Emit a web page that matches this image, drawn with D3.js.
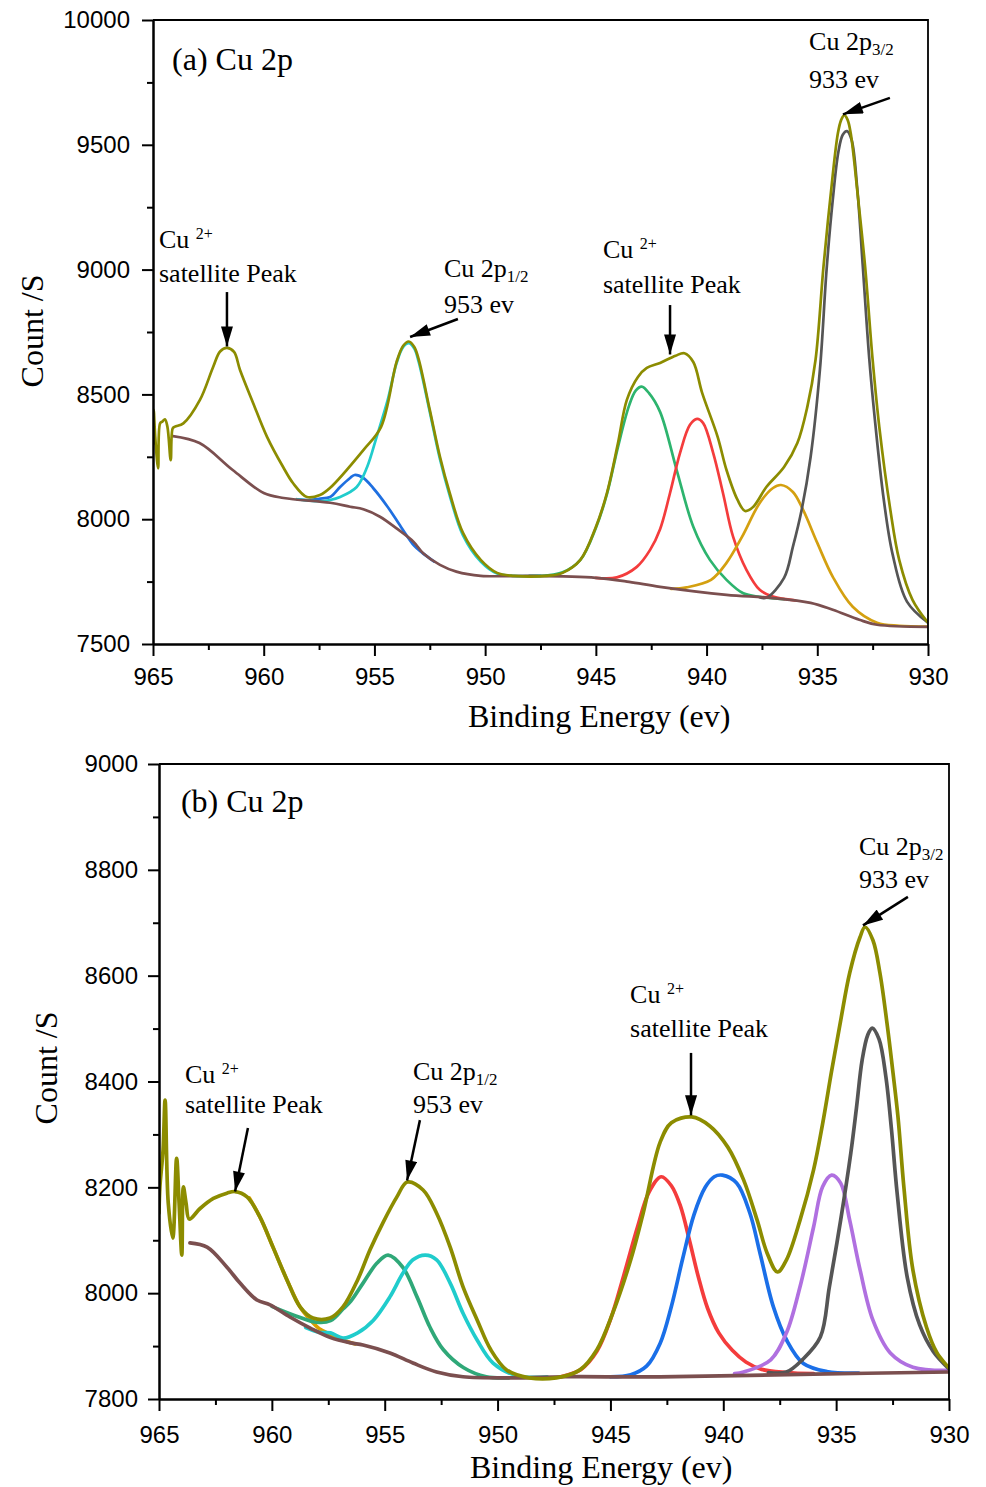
<!DOCTYPE html>
<html>
<head>
<meta charset="utf-8">
<script src="https://cdn.jsdelivr.net/npm/d3@7"></script>
<style>
    body { margin: 0; background: #fff; }
    .axis path, .axis line { stroke: #000; stroke-width: 2; }
    .axis text { font-family: "Liberation Sans", Arial, sans-serif; font-size: 24px; fill: #000; }
    .title { font-family: "Liberation Serif", "Times New Roman", serif; font-size: 32px; fill: #000; }
    .note { font-family: "Liberation Serif", "Times New Roman", serif; font-size: 26px; fill: #000; }
</style>
</head>
<body>
<script>

// tick values
var energyTicks = [965, 960, 955, 950, 945, 940, 935, 930];
var energyMinor = [962.5, 957.5, 952.5, 947.5, 942.5, 937.5, 932.5];
var aCountTicks = [7500, 8000, 8500, 9000, 9500, 10000];
var aCountMinor = [7750, 8250, 8750, 9250, 9750];
var bCountTicks = [7800, 8000, 8200, 8400, 8600, 8800, 9000];
var bCountMinor = [7900, 8100, 8300, 8500, 8700, 8900];

// panel (a): [binding energy, count]
var aEnvelope = [[965.0, 8300], [964.97, 8438], [964.9, 8330], [964.77, 8204], [964.68, 8384], [964.58, 8391],
    [964.46, 8400], [964.35, 8371], [964.2, 8237], [964.11, 8364], [964.01, 8371], [963.63, 8384], [962.88, 8478],
    [962.28, 8611], [961.97, 8672], [961.66, 8686], [961.34, 8670], [961.07, 8598], [960.48, 8466], [959.85, 8330],
    [959.13, 8210], [958.68, 8145], [958.05, 8089], [957.46, 8097], [957.01, 8125], [955.5, 8277], [954.7, 8370],
    [954.0, 8630], [953.7, 8695], [953.45, 8712], [953.2, 8690], [953.0, 8640], [952.5, 8438], [952.04, 8250],
    [951.6, 8105], [951.0, 7945], [950.2, 7837], [949.46, 7785], [948.7, 7773], [947.2, 7773], [946.5, 7785],
    [945.7, 7837], [945.0, 7969], [944.5, 8105], [944.0, 8305], [943.6, 8478], [943.1, 8570], [942.7, 8606],
    [942.1, 8626], [941.4, 8655], [941.0, 8665], [940.6, 8630], [940.2, 8506], [939.5, 8330], [939.1, 8197],
    [938.6, 8077], [938.26, 8033], [937.9, 8049], [937.3, 8129], [936.5, 8209], [935.9, 8305], [935.45, 8450],
    [935.08, 8638], [934.72, 9012], [934.42, 9279], [934.07, 9546], [933.92, 9600], [933.78, 9619], [933.63, 9600],
    [933.49, 9546], [933.15, 9279], [932.84, 9012], [932.5, 8638], [932.2, 8370], [931.7, 8037], [931.3, 7837],
    [930.7, 7677], [930.0, 7585]];
var aBackground = [[964.1, 8333], [962.9, 8305], [961.4, 8197], [960.0, 8105], [959.1, 8085], [957.0, 8066],
    [956.1, 8050], [955.5, 8040], [954.75, 8010], [954.0, 7963], [953.24, 7910], [952.8, 7864], [952.04, 7817],
    [951.3, 7790], [950.2, 7773], [948.0, 7773], [945.0, 7765], [943.5, 7749], [942.1, 7729], [939.1, 7697],
    [937.1, 7685], [935.3, 7665], [934.3, 7637], [933.1, 7597], [932.3, 7577], [930.0, 7569]];
var aPeak956 = [[958.5, 8080], [958.0, 8077], [957.5, 8082], [957.0, 8089], [956.55, 8129], [956.1, 8165],
    [955.9, 8177], [955.5, 8165], [955.06, 8125], [954.4, 8049], [953.8, 7969], [953.2, 7893], [952.85, 7866],
    [952.3, 7830]];
var aPeak953 = [[958.5, 8080], [957.5, 8072], [957.0, 8077], [956.55, 8089], [955.8, 8129], [955.33, 8209],
    [954.9, 8330], [954.4, 8478], [954.0, 8625], [953.7, 8690], [953.45, 8705], [953.2, 8684], [953.0, 8630],
    [952.5, 8430], [952.04, 8240], [951.6, 8095], [951.0, 7935], [950.2, 7830], [949.46, 7782], [948.7, 7773],
    [947.5, 7773]];
var aPeak943 = [[948.0, 7773], [947.2, 7775], [946.5, 7787], [945.7, 7837], [945.0, 7965], [944.5, 8100],
    [944.0, 8290], [943.5, 8455], [943.2, 8515], [942.93, 8531], [942.6, 8505], [942.1, 8430], [941.35, 8197],
    [940.6, 7970], [939.85, 7837], [939.1, 7757], [938.34, 7703], [937.6, 7689], [936.5, 7680]];
var aPeak940 = [[945.0, 7765], [944.05, 7767], [943.15, 7809], [942.55, 7877], [942.1, 7960], [941.65, 8105],
    [941.2, 8265], [940.75, 8378], [940.43, 8402], [940.16, 8386], [939.7, 8265], [939.26, 8105], [938.8, 7929],
    [938.2, 7797], [937.6, 7717], [937.0, 7690], [936.0, 7675]];
var aPeak937 = [[941.6, 7721], [940.9, 7727], [939.8, 7757], [939.1, 7825], [938.4, 7929], [937.6, 8065],
    [937.0, 8125], [936.64, 8137], [936.1, 8109], [935.64, 8037], [935.0, 7905], [934.3, 7769], [933.4, 7649],
    [932.3, 7585], [931.3, 7573], [930.0, 7570]];
var aPeak933 = [[937.6, 7687], [937.3, 7685], [936.5, 7765], [936.1, 7890], [935.7, 8040], [935.3, 8250],
    [934.88, 8600], [934.58, 9000], [934.3, 9280], [934.05, 9470], [933.85, 9540], [933.66, 9555], [933.45, 9520],
    [933.2, 9330], [932.95, 9020], [932.65, 8640], [932.4, 8400], [932.0, 8080], [931.6, 7860], [930.95, 7670],
    [930.0, 7585]];

// panel (b): [binding energy, count]
var bEnvelope = [[965.0, 8151], [964.96, 8201], [964.82, 8271], [964.73, 8365], [964.59, 8170], [964.39, 8104],
    [964.22, 8255], [964.11, 8170], [963.99, 8072], [963.92, 8201], [963.8, 8170], [963.66, 8140], [963.18, 8160],
    [962.59, 8179], [961.99, 8189], [961.63, 8192], [961.1, 8182], [960.53, 8144], [959.95, 8087], [959.33, 8025],
    [958.75, 7974], [958.18, 7953], [957.42, 7953], [956.85, 7974], [956.2, 8025], [955.65, 8082], [955.08, 8133],
    [954.46, 8182], [954.0, 8210], [953.3, 8195], [952.7, 8151], [952.1, 8087], [951.53, 8012], [950.9, 7949],
    [950.3, 7893], [949.6, 7855], [948.6, 7840], [947.4, 7840], [946.35, 7855], [945.6, 7893], [944.9, 7962],
    [944.1, 8063], [943.55, 8151], [942.8, 8285], [942.3, 8322], [941.4, 8333], [940.6, 8316], [939.8, 8276],
    [939.1, 8214], [938.5, 8138], [938.06, 8076], [937.6, 8040], [937.2, 8063], [936.6, 8138], [936.0, 8233],
    [935.6, 8320], [935.2, 8420], [934.8, 8515], [934.4, 8605], [933.94, 8673], [933.72, 8692], [933.37, 8667],
    [933.06, 8605], [932.75, 8511], [932.48, 8416], [932.26, 8333], [932.0, 8201], [931.6, 8044], [931.0, 7936],
    [930.53, 7887], [930.0, 7859]];
var bBackground = [[963.63, 8095], [962.87, 8087], [961.99, 8049], [961.41, 8019], [960.66, 7987], [960.08, 7978],
    [959.2, 7955], [958.3, 7934], [957.4, 7916], [956.5, 7906], [955.96, 7902], [954.77, 7887], [953.75, 7868],
    [952.7, 7851], [951.53, 7842], [949.3, 7840], [947.1, 7842], [942.8, 7842], [936.0, 7847], [930.0, 7851]];
var bPeak960 = [[961.0, 8180], [960.53, 8144], [959.95, 8087], [959.33, 8025], [958.75, 7974], [958.3, 7950],
    [957.9, 7933], [957.4, 7922], [956.9, 7912], [956.3, 7904]];
var bPeak955 = [[960.0, 7975], [959.0, 7958], [958.0, 7945], [957.4, 7948], [956.85, 7970], [956.5, 7985],
    [955.96, 8019], [955.34, 8057], [954.85, 8072], [954.2, 8049], [953.57, 7993], [953.0, 7936], [952.4, 7893],
    [951.5, 7859], [950.5, 7842], [949.5, 7840]];
var bPeak953 = [[958.5, 7935], [957.9, 7926], [957.4, 7925], [956.85, 7915], [956.2, 7925], [955.5, 7949],
    [954.77, 7993], [954.19, 8038], [953.75, 8063], [953.2, 8072], [952.7, 8063], [952.1, 8019], [951.53, 7962],
    [950.9, 7911], [950.2, 7868], [949.14, 7844], [947.8, 7842]];
var bPeak943 = [[947.2, 7842], [946.3, 7856], [945.6, 7890], [945.0, 7950], [944.4, 8035], [943.8, 8125],
    [943.3, 8190], [942.75, 8220], [942.3, 8203], [941.9, 8165], [941.5, 8100], [941.1, 8030], [940.7, 7972],
    [940.2, 7925], [939.6, 7892], [939.0, 7870], [938.3, 7856], [937.2, 7850], [936.0, 7848]];
var bPeak940 = [[945.0, 7842], [944.1, 7846], [943.4, 7862], [942.8, 7905], [942.3, 7975], [941.8, 8065],
    [941.3, 8148], [940.8, 8200], [940.4, 8220], [940.04, 8223], [939.41, 8208], [938.82, 8151], [938.37, 8075],
    [937.78, 7974], [937.19, 7911], [936.45, 7867], [935.42, 7852], [934.0, 7849]];
var bPeak935 = [[939.5, 7848], [939.1, 7851], [937.9, 7874], [937.2, 7925], [936.6, 8012], [936.0, 8125],
    [935.6, 8201], [935.2, 8223], [934.8, 8208], [934.4, 8138], [933.94, 8044], [933.37, 7949], [932.6, 7887],
    [931.6, 7860], [930.0, 7854]];
var bPeak933 = [[938.0, 7850], [937.2, 7851], [936.5, 7874], [935.7, 7917], [935.3, 8012], [934.8, 8138],
    [934.35, 8265], [934.1, 8350], [933.85, 8440], [933.6, 8488], [933.4, 8501], [933.1, 8480], [932.8, 8410],
    [932.55, 8310], [932.3, 8190], [931.85, 8030], [931.3, 7940], [930.7, 7890], [930.0, 7857]];

var olive = "#8c8c00", brown = "#7b4f4f";

var svg = d3.select("body")
            .append("svg")
            .attr("width", 986)
            .attr("height", 1487);

var defs = svg.append("defs");
defs.append("marker")
    .attr("id", "arrow")
    .attr("viewBox", "0 0 20 12")
    .attr("refX", 20)
    .attr("refY", 6)
    .attr("markerWidth", 21)
    .attr("markerHeight", 12)
    .attr("markerUnits", "userSpaceOnUse")
    .attr("orient", "auto")
    .append("path")
    .attr("d", "M0,0L20,6L0,12Z")
    .attr("fill", "#000");

var panelA = {
    name: "a", left: 153, right: 928, top: 20, bottom: 644, yDomain: [7500, 10000],
    yTicks: aCountTicks, yMinor: aCountMinor, lineWidth: 2.7, xPad: 12, yPad: 12,
    xTitle: [468, 727], yTitle: [43, 331],
    series: [
        {values: aPeak956, color: "#1f6fe0"},
        {values: aPeak953, color: "#20cccc"},
        {values: aPeak943, color: "#2db46e"},
        {values: aPeak940, color: "#f43c3c"},
        {values: aPeak937, color: "#d4a010"},
        {values: aPeak933, color: "#555555"},
        {values: aBackground, color: brown},
        {values: aEnvelope, color: olive}
    ],
    notes: [
        {e: 964.14, c: 9800, size: 32, parts: [{t: "(a) Cu 2p"}]},
        {e: 964.73, c: 9087, parts: [{t: "Cu "}, {t: "2+", s: "sup"}]},
        {e: 964.73, c: 8950, parts: [{t: "satellite Peak"}]},
        {e: 951.86, c: 8970, parts: [{t: "Cu 2p"}, {t: "1/2", s: "sub"}]},
        {e: 951.86, c: 8826, parts: [{t: "953 ev"}]},
        {e: 944.68, c: 9047, parts: [{t: "Cu "}, {t: "2+", s: "sup"}]},
        {e: 944.68, c: 8906, parts: [{t: "satellite Peak"}]},
        {e: 935.37, c: 9880, parts: [{t: "Cu 2p"}, {t: "3/2", s: "sub"}]},
        {e: 935.37, c: 9728, parts: [{t: "933 ev"}]}
    ],
    arrows: [[961.66, 8910, 961.66, 8692], [951.23, 8802, 953.39, 8730],
             [941.65, 8858, 941.65, 8660], [931.72, 9688, 933.84, 9622]]
};

var panelB = {
    name: "b", left: 159, right: 949, top: 764, bottom: 1399, yDomain: [7800, 9000],
    yTicks: bCountTicks, yMinor: bCountMinor, lineWidth: 3.7, xPad: 15, yPad: 10,
    xTitle: [470, 1478], yTitle: [57, 1068],
    series: [
        {values: bPeak960, color: "#d9a000"},
        {values: bPeak955, color: "#2fa878"},
        {values: bPeak953, color: "#20cccc"},
        {values: bPeak943, color: "#f43c3c"},
        {values: bPeak940, color: "#1a6fe8"},
        {values: bPeak935, color: "#b070e0"},
        {values: bPeak933, color: "#555555"},
        {values: bBackground, color: brown},
        {values: bEnvelope, color: olive}
    ],
    notes: [
        {e: 964.03, c: 8909, size: 32, parts: [{t: "(b) Cu 2p"}]},
        {e: 963.85, c: 8397, parts: [{t: "Cu "}, {t: "2+", s: "sup"}]},
        {e: 963.85, c: 8340, parts: [{t: "satellite Peak"}]},
        {e: 953.75, c: 8403, parts: [{t: "Cu 2p"}, {t: "1/2", s: "sub"}]},
        {e: 953.75, c: 8340, parts: [{t: "953 ev"}]},
        {e: 944.13, c: 8548, parts: [{t: "Cu "}, {t: "2+", s: "sup"}]},
        {e: 944.13, c: 8484, parts: [{t: "satellite Peak"}]},
        {e: 933.99, c: 8828, parts: [{t: "Cu 2p"}, {t: "3/2", s: "sub"}]},
        {e: 933.99, c: 8766, parts: [{t: "933 ev"}]}
    ],
    arrows: [[961.06, 8312, 961.63, 8192], [953.44, 8327, 954.01, 8213],
             [941.43, 8454, 941.43, 8336], [931.82, 8749, 933.81, 8695]]
};

drawPanel(panelA);
drawPanel(panelB);

function drawPanel(p) {

    var xScale = d3.scaleLinear()
                    .domain([965, 930])
                    .range([p.left, p.right]);

    var yScale = d3.scaleLinear()
                    .domain(p.yDomain)
                    .range([p.bottom, p.top]);

    var g = svg.append("g");

    // clip the curves to the plot box
    defs.append("clipPath")
        .attr("id", "clip-" + p.name)
        .append("rect")
        .attr("x", p.left)
        .attr("y", p.top)
        .attr("width", p.right - p.left)
        .attr("height", p.bottom - p.top);

    var line = d3.line()
                .x(function(d) { return xScale(d[0]); })
                .y(function(d) { return yScale(d[1]); })
                .curve(d3.curveCatmullRom.alpha(0.5));

    g.append("g")
        .attr("clip-path", "url(#clip-" + p.name + ")")
        .selectAll("path")
        .data(p.series)
        .enter()
        .append("path")
        .attr("d", function(d) { return line(d.values); })
        .attr("fill", "none")
        .attr("stroke", function(d) { return d.color; })
        .attr("stroke-width", p.lineWidth)
        .attr("stroke-linejoin", "round")
        .attr("stroke-linecap", "round");

    // top and right border
    g.append("path")
        .attr("d", "M" + xScale.range()[0] + "," + yScale.range()[1] + "H" + xScale.range()[1] + "V" + yScale.range()[0])
        .attr("fill", "none")
        .attr("stroke", "#000")
        .attr("stroke-width", 1.8);

    // x axis, major and minor ticks
    g.append("g")
        .attr("class", "axis")
        .attr("transform", "translate(0," + p.bottom + ")")
        .call(d3.axisBottom(xScale).tickValues(energyMinor).tickSize(6).tickSizeOuter(0).tickFormat(""));

    g.append("g")
        .attr("class", "axis")
        .attr("transform", "translate(0," + p.bottom + ")")
        .call(d3.axisBottom(xScale).tickValues(energyTicks).tickSize(12).tickSizeOuter(0)
                .tickPadding(p.xPad).tickFormat(d3.format("d")));

    // y axis
    g.append("g")
        .attr("class", "axis")
        .attr("transform", "translate(" + p.left + ",0)")
        .call(d3.axisLeft(yScale).tickValues(p.yMinor).tickSize(6).tickSizeOuter(0).tickFormat(""));

    g.append("g")
        .attr("class", "axis")
        .attr("transform", "translate(" + p.left + ",0)")
        .call(d3.axisLeft(yScale).tickValues(p.yTicks).tickSize(11).tickSizeOuter(0)
                .tickPadding(p.yPad).tickFormat(d3.format("d")));

    // axis titles
    g.append("text")
        .attr("class", "title")
        .attr("x", p.xTitle[0])
        .attr("y", p.xTitle[1])
        .text("Binding Energy (ev)");

    g.append("text")
        .attr("class", "title")
        .attr("transform", "translate(" + p.yTitle[0] + "," + p.yTitle[1] + ") rotate(-90)")
        .style("text-anchor", "middle")
        .text("Count /S");

    // labels
    p.notes.forEach(function(n) {
        var t = g.append("text")
                    .attr("class", "note")
                    .attr("x", xScale(n.e))
                    .attr("y", yScale(n.c));
        if (n.size) t.style("font-size", n.size + "px");
        n.parts.forEach(function(part) {
            var span = t.append("tspan").text(part.t);
            if (part.s == "sup") {
                span.attr("dy", -9).style("font-size", "16px");
            } else if (part.s == "sub") {
                span.attr("dy", 5).style("font-size", "17px");
            }
        });
    });

    g.selectAll("line.arrow")
        .data(p.arrows)
        .enter()
        .append("line")
        .attr("class", "arrow")
        .attr("x1", function(d) { return xScale(d[0]); })
        .attr("y1", function(d) { return yScale(d[1]); })
        .attr("x2", function(d) { return xScale(d[2]); })
        .attr("y2", function(d) { return yScale(d[3]); })
        .attr("stroke", "#000")
        .attr("stroke-width", 2.5)
        .attr("marker-end", "url(#arrow)");
}

</script>
</body>
</html>
